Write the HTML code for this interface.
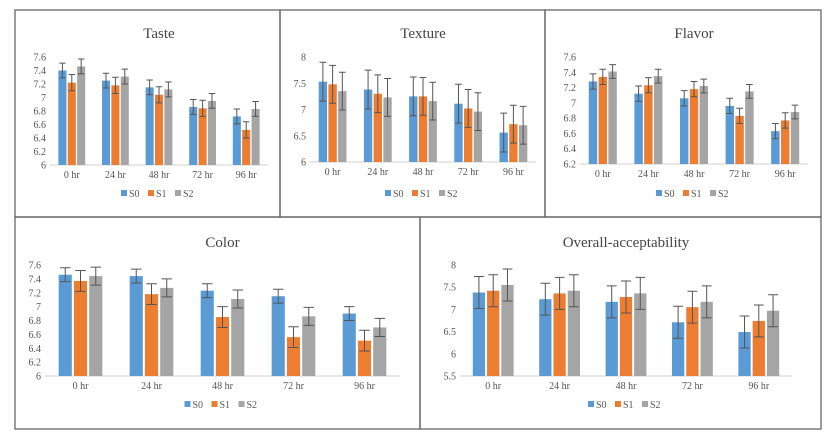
<!DOCTYPE html>
<html><head><meta charset="utf-8"><style>
body{margin:0;background:#fff;}
svg{display:block;font-family:"Liberation Serif",serif;}
</style></head><body>
<svg id="c" width="835" height="437" viewBox="0 0 835 437" xmlns="http://www.w3.org/2000/svg"></svg>
<script>
const categories = ["0 hr","24 hr","48 hr","72 hr","96 hr"];
const seriesNames = ["S0","S1","S2"];
const tasteS0 = [7.40,7.25,7.15,6.86,6.72];
const tasteS1 = [7.22,7.18,7.04,6.84,6.52];
const tasteS2 = [7.46,7.31,7.12,6.95,6.83];
const tasteErr = [0.11,0.12,0.11];
const tasteTicks = [6,6.2,6.4,6.6,6.8,7,7.2,7.4,7.6];
const textureS0 = [7.53,7.38,7.25,7.11,6.56];
const textureS1 = [7.48,7.30,7.25,7.02,6.72];
const textureS2 = [7.35,7.23,7.16,6.96,6.70];
const textureErr = [0.37,0.36,0.36];
const textureTicks = [6,6.5,7,7.5,8];
const flavorS0 = [7.28,7.12,7.06,6.96,6.63];
const flavorS1 = [7.34,7.23,7.18,6.83,6.77];
const flavorS2 = [7.41,7.35,7.22,7.15,6.88];
const flavorErr = [0.10,0.10,0.09];
const flavorTicks = [6.2,6.4,6.6,6.8,7,7.2,7.4,7.6];
const colorS0 = [7.46,7.44,7.23,7.15,6.90];
const colorS1 = [7.37,7.18,6.85,6.56,6.51];
const colorS2 = [7.44,7.27,7.11,6.86,6.70];
const colorErr = [0.10,0.15,0.13];
const colorTicks = [6,6.2,6.4,6.6,6.8,7,7.2,7.4,7.6];
const overallS0 = [7.38,7.23,7.17,6.71,6.49];
const overallS1 = [7.42,7.36,7.28,7.05,6.74];
const overallS2 = [7.55,7.42,7.36,7.17,6.97];
const overallErr = [0.36,0.36,0.36];
const overallTicks = [5.5,6,6.5,7,7.5,8];

const COLORS=["#5B9BD5","#ED7D31","#A5A5A5"];
const NS="http://www.w3.org/2000/svg";
const svg=document.getElementById('c');
function mk(tag,attrs,parent,text){const e=document.createElementNS(NS,tag);for(const k in attrs)e.setAttribute(k,attrs[k]);if(text!==undefined)e.textContent=text;(parent||svg).appendChild(e);return e;}

function chart(cfg){
  const g=mk('g',{});
  
  
  const b=cfg.box;
  const fr=mk('rect',{x:b[0],y:b[1],width:b[2]-b[0],height:b[3]-b[1],fill:'none',stroke:'#666','stroke-width':1.3},g);
  
  
  const t=mk('text',{x:(cfg.x0+cfg.x1)/2,y:cfg.titleY,'text-anchor':'middle','font-size':cfg.titleSize,fill:'#444'},g,cfg.title);
  
  
  const tk=cfg.ticks, vmin=tk[0], vmax=tk[tk.length-1];
  const yS=v=>cfg.yBot-(v-vmin)/(vmax-vmin)*(cfg.yBot-cfg.yTop);
  const gw=(cfg.x1-cfg.x0)/categories.length;
  const xS=i=>cfg.x0+gw*(i+0.5);
  tk.forEach(v=>{
    const l=mk('text',{x:cfg.x0-4,y:yS(v)+3.5,'text-anchor':'end','font-size':10,fill:'#555'},g,String(v));
    
    
  });
  const ax=mk('line',{x1:cfg.x0,x2:cfg.x1,y1:cfg.yBot,y2:cfg.yBot,stroke:'#d0d0d0','stroke-width':1},g);
  
  
  const bw=gw*0.185, step=gw*0.215;
  cfg.series.forEach((vals,s)=>{
    vals.forEach((v,i)=>{
      const cx=xS(i)+(s-1)*step;
      const r=mk('rect',{x:cx-bw/2,y:yS(v),width:bw,height:cfg.yBot-yS(v),fill:COLORS[s]},g);
      
      
      const e=cfg.err[s], yt=yS(v+e), yb=yS(v-e), cw=bw*0.4;
      const eb=mk('path',{d:`M${cx},${yt}V${yb}M${cx-cw},${yt}H${cx+cw}M${cx-cw},${yb}H${cx+cw}`,stroke:'#555','stroke-width':1,fill:'none'},g);
      
      
    });
  });
  categories.forEach((c,i)=>{
    const l=mk('text',{x:xS(i),y:cfg.yBot+13,'text-anchor':'middle','font-size':10,fill:'#555'},g,c);
    
    
  });
  const lx=(cfg.x0+cfg.x1)/2-38;
  seriesNames.forEach((n,s)=>{
    const x=lx+s*27;
    const sw=mk('rect',{x:x,y:cfg.legY-7,width:6,height:6,fill:COLORS[s]},g);
    
    
    const tx=mk('text',{x:x+8,y:cfg.legY,'font-size':10,fill:'#555'},g,n);
    
    
  });
}
chart({name:'taste',title:'Taste',box:[15,10,280,217],x0:50,x1:268,yTop:57,yBot:165,titleY:38,titleSize:15,legY:197,ticks:tasteTicks,series:[tasteS0,tasteS1,tasteS2],err:tasteErr});
chart({name:'texture',title:'Texture',box:[280,10,545,217],x0:310,x1:536,yTop:57,yBot:162,titleY:38,titleSize:15,legY:197,ticks:textureTicks,series:[textureS0,textureS1,textureS2],err:textureErr});
chart({name:'flavor',title:'Flavor',box:[545,10,821,217],x0:580,x1:808,yTop:57,yBot:164,titleY:38,titleSize:15,legY:197,ticks:flavorTicks,series:[flavorS0,flavorS1,flavorS2],err:flavorErr});
chart({name:'color',title:'Color',box:[15,217,420,429],x0:45,x1:400,yTop:265,yBot:376,titleY:247,titleSize:15,legY:408,ticks:colorTicks,series:[colorS0,colorS1,colorS2],err:colorErr});
chart({name:'overall-acceptability',title:'Overall-acceptability',box:[420,217,821,429],x0:460,x1:792,yTop:265,yBot:376,titleY:247,titleSize:15,legY:408,ticks:overallTicks,series:[overallS0,overallS1,overallS2],err:overallErr});
</script>
</body></html>
